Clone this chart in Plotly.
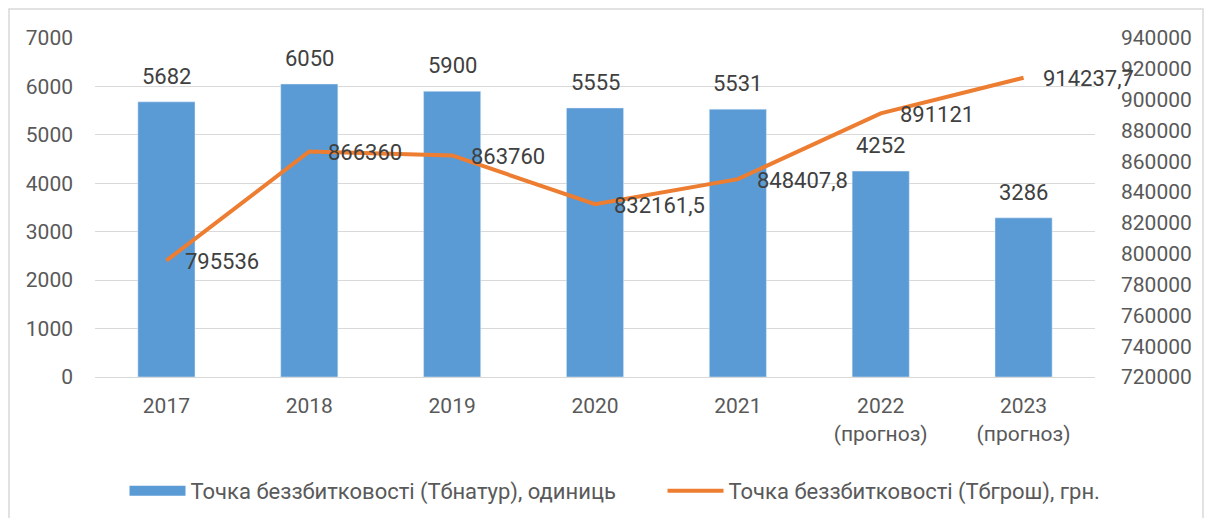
import plotly.graph_objects as go

categories = ["2017", "2018", "2019", "2020", "2021", "2022<br>(прогноз)", "2023<br>(прогноз)"]
units = [5682, 6050, 5900, 5555, 5531, 4252, 3286]
money = [795536, 866360, 863760, 832161.5, 848407.8, 891121, 914237.7]
money_labels = ["795536", "866360", "863760", "832161,5", "848407,8", "891121", "914237,7"]
left_ticks = [0, 1000, 2000, 3000, 4000, 5000, 6000, 7000]
right_ticks = [720000, 740000, 760000, 780000, 800000, 820000, 840000, 860000, 880000,
               900000, 920000, 940000]
bar_name = "Точка беззбитковості (Тбнатур), одиниць"
line_name = "Точка беззбитковості (Тбгрош), грн."

FONT = "Roboto, sans-serif"
LBL = "#404040"
BLUE = "#5B9BD5"
ORANGE = "#ED7D31"

fig = go.Figure()
fig.add_trace(go.Bar(
    x=categories, y=units, name=bar_name, marker_color=BLUE,
    showlegend=False, legendgroup="bar",
))
# legend entry for the bar series drawn as a wide block, like the original
fig.add_trace(go.Scatter(
    x=[None], y=[None], name=bar_name, mode="lines",
    line=dict(color=BLUE, width=12), legendgroup="bar", legendwidth=467,
))
fig.add_trace(go.Scatter(
    x=categories, y=money, yaxis="y2", name=line_name,
    mode="lines", line=dict(color=ORANGE, width=4),
))

annotations = []
for i, v in enumerate(units):
    annotations.append(dict(x=i, y=v, xref="x", yref="y", text=str(v), showarrow=False,
                            xanchor="center", yanchor="bottom", yshift=11,
                            font=dict(size=22, color=LBL, family=FONT)))
for i, (v, t) in enumerate(zip(money, money_labels)):
    annotations.append(dict(x=i, y=v, xref="x", yref="y2", text=t, showarrow=False,
                            xanchor="left", yanchor="middle", xshift=17, yshift=-1,
                            font=dict(size=22, color=LBL, family=FONT)))

fig.update_layout(
    width=1198, height=510,
    margin=dict(l=87, r=111, t=30, b=141, autoexpand=False),
    paper_bgcolor="white", plot_bgcolor="white",
    font=dict(family=FONT, color="#595959", size=21),
    bargap=0.6,
    showlegend=True,
    legend=dict(orientation="h", x=0.52, xanchor="center", y=-0.336, yanchor="middle",
                font=dict(size=22, color="#595959"), itemwidth=56, tracegroupgap=0),
    xaxis=dict(type="category", categoryorder="array", categoryarray=categories,
               range=[-0.5, len(categories) - 0.5],
               showgrid=False, showline=True, linecolor="#D9D9D9", ticks="",
               tickfont=dict(size=21), ticklabelstandoff=10),
    yaxis=dict(range=[0, 7000], tickvals=left_ticks, showgrid=True, gridcolor="#D9D9D9",
               zeroline=False, ticks="", tickfont=dict(size=21), ticklabelstandoff=21),
    yaxis2=dict(range=[720000, 940000], tickvals=right_ticks, tickformat="d",
                overlaying="y", side="right", showgrid=False, zeroline=False,
                ticks="", tickfont=dict(size=21), ticklabelstandoff=25),
    annotations=annotations,
    shapes=[dict(type="rect", xref="paper", yref="paper", x0=-0.086, x1=1.108,
                 y0=-0.47, y1=1.0855, line=dict(color="#D9D9D9", width=1.5))],
)

fig.write_html("out.html")
